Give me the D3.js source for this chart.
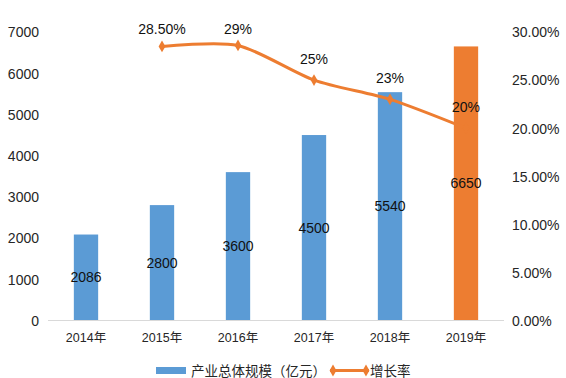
<!DOCTYPE html>
<html><head><meta charset="utf-8">
<script src="https://cdn.jsdelivr.net/npm/d3@7"></script>
<style>
html,body{margin:0;padding:0;background:#fff;}
text{font-family:"Liberation Sans","DejaVu Sans","Noto Sans CJK SC",sans-serif;}
</style></head>
<body><svg id="c" width="566" height="378"></svg>
<script>
const categories = ["2014年","2015年","2016年","2017年","2018年","2019年"];
const scaleValues = [2086, 2800, 3600, 4500, 5540, 6650];
const scaleLabels = ["2086","2800","3600","4500","5540","6650"];
const growthValues = [null, 28.5, 28.6, 25, 23, 20];
const growthLabels = [null, "28.50%", "29%", "25%", "23%", "20%"];
const leftTicks = [0,1000,2000,3000,4000,5000,6000,7000];
const rightTicks = [0,5,10,15,20,25,30];
const seriesNames = ["产业总体规模（亿元）","增长率"];

const blue = "#5B9BD5", orange = "#ED7D31", txt = "#262626";
const svg = d3.select("#c");
const x = d3.scaleBand().domain(categories).range([48,504]).paddingInner(0.68).paddingOuter(0.34);
const yL = d3.scaleLinear().domain([0,7000]).range([320.5,32]);
const yR = d3.scaleLinear().domain([0,30]).range([320.5,32]);

// left axis
const gl = svg.append("g").attr("transform","translate(39,0)")
  .call(d3.axisLeft(yL).tickValues(leftTicks).tickSize(0).tickPadding(0).tickFormat(d3.format("d")));
gl.select(".domain").remove();
gl.selectAll("text").attr("font-size",14).attr("fill",txt).attr("dy","0.35em");

// right axis
const gr = svg.append("g").attr("transform","translate(512,0)")
  .call(d3.axisRight(yR).tickValues(rightTicks).tickSize(0).tickPadding(0).tickFormat(d=>d3.format(".2f")(d)+"%"));
gr.select(".domain").remove();
gr.selectAll("text").attr("font-size",14).attr("fill",txt).attr("dy","0.35em");

// bars
svg.selectAll("rect.bar").data(scaleValues).join("rect").attr("class","bar")
  .attr("x",(d,i)=>x(categories[i])).attr("width",x.bandwidth())
  .attr("y",d=>yL(d)).attr("height",d=>yL(0)-yL(d))
  .attr("fill",(d,i)=>i===categories.length-1?orange:blue);

// x axis
const gx = svg.append("g").attr("transform","translate(0,320.5)")
  .call(d3.axisBottom(x).tickSize(0).tickPadding(13));
gx.select(".domain").attr("stroke","#d9d9d9").attr("stroke-width",1).attr("d","M48,0H504");
gx.selectAll("text").attr("font-size",12.5).attr("fill",txt);

// bar labels
svg.selectAll("text.bl").data(scaleValues).join("text").attr("class","bl")
  .attr("x",(d,i)=>x(categories[i])+x.bandwidth()/2)
  .attr("y",d=>(yL(d)+yL(0))/2).attr("dy","0.35em")
  .attr("text-anchor","middle").attr("font-size",14).attr("fill","#111")
  .text((d,i)=>scaleLabels[i]);

// line
const pts = growthValues.map((v,i)=>({v,i})).filter(p=>p.v!=null);
const cx = p=>x(categories[p.i])+x.bandwidth()/2;
const line = d3.line().x(cx).y(p=>yR(p.v)).curve(d3.curveCardinal.tension(0.2));
svg.append("path").attr("d",line(pts)).attr("fill","none").attr("stroke",orange).attr("stroke-width",3);
const diamond = d3.symbol().type(d3.symbolDiamond).size(40);
svg.selectAll("path.mk").data(pts).join("path").attr("class","mk")
  .attr("d",diamond).attr("transform",p=>`translate(${cx(p)},${yR(p.v)})`).attr("fill",orange);
svg.selectAll("text.gl").data(pts).join("text").attr("class","gl")
  .attr("x",cx).attr("y",p=>Math.max(yR(p.v)-21,29)).attr("dy","0.35em")
  .attr("text-anchor","middle").attr("font-size",14).attr("fill","#111")
  .text(p=>growthLabels[p.i]);

// legend
const lg = svg.append("g");
lg.append("rect").attr("x",156).attr("y",367).attr("width",30).attr("height",7).attr("fill",blue);
lg.append("text").attr("x",191).attr("y",371).attr("dy","0.35em").attr("font-size",13.5).attr("fill",txt).text(seriesNames[0]);
lg.append("line").attr("x1",330).attr("x2",369).attr("y1",370.5).attr("y2",370.5).attr("stroke",orange).attr("stroke-width",3);
[333,366].forEach(px=>lg.append("path").attr("d",diamond).attr("transform",`translate(${px},370.5)`).attr("fill",orange));
lg.append("text").attr("x",370).attr("y",371).attr("dy","0.35em").attr("font-size",13.5).attr("fill",txt).text(seriesNames[1]);
</script></body></html>
